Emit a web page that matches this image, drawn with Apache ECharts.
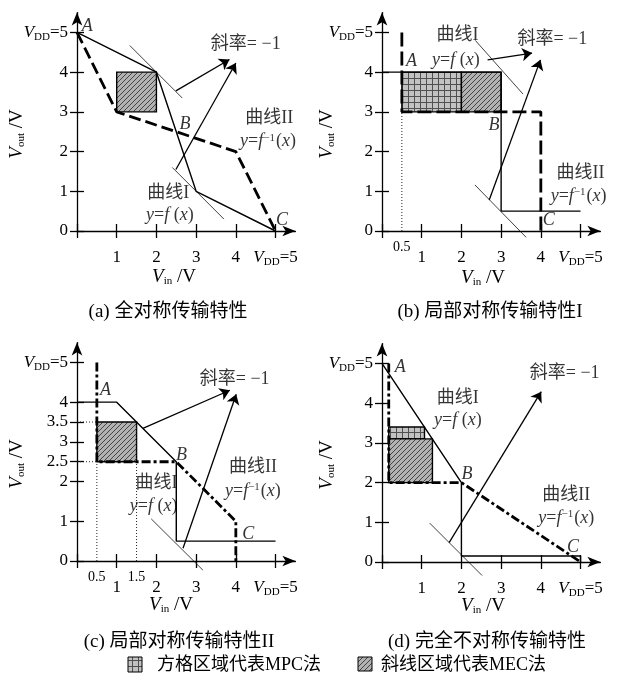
<!DOCTYPE html>
<html>
<head>
<meta charset="utf-8">
<script src="https://cdn.jsdelivr.net/npm/echarts@6/dist/echarts.min.js"></script>
<style>
html, body { margin: 0; padding: 0; background: #fff; }
#chart { width: 620px; height: 684px; }
</style>
</head>
<body>
<div id="chart"></div>
<script>
// ---- data, panel order a, b, c, d ----
const captions = ['(a) 全对称传输特性', '(b) 局部对称传输特性I', '(c) 局部对称传输特性II', '(d) 完全不对称传输特性'];

// 曲线I  y=f(x)
const curve1A = [[0, 5], [2, 4], [3, 1], [5, 0]];
const curve1B = [[0, 4], [3, 4], [3, 0.5], [5, 0.5]];
const curve1C = [[0, 4], [1, 4], [2.5, 2.5], [2.5, 0.5], [5, 0.5]];
const curve1D = [[0, 5], [2, 2], [2, 0.15], [5, 0.15], [5, 0]];
// 曲线II  y=f^-1(x)
const curve2A = [[0, 5], [1, 3], [4, 2], [5, 0]];
const curve2B = [[0.5, 5], [0.5, 3], [4, 3], [4, 0]];
const curve2C = [[0.5, 5], [0.5, 2.5], [2.5, 2.5], [4, 1], [4, 0]];
const curve2D = [[0.17, 5], [0.17, 2], [2, 2], [5, 0]];

// slope -1 tangent segments
const tangentsA = [[[1.33, 4.67], [2.65, 3.35]], [[2.4, 1.6], [3.7, 0.3]]];
const tangentsB = [[[2.35, 4.8], [3.55, 3.45]], [[2.34, 1.16], [3.63, -0.16]]];
const tangentsC = [[[1.87, 1.06], [3.17, -0.23]]];
const tangentsD = [[[1.2, 0.98], [2.52, -0.34]]];

// arrows from tangents to the "斜率= -1" note
const arrowsA = [[[2.49, 3.53], [3.84, 4.32]], [[2.49, 1.55], [4.0, 4.23]]];
const arrowsB = [[[2.66, 4.31], [3.78, 4.48]], [[2.70, 0.78], [3.99, 4.31]]];
const arrowsC = [[[1.66, 3.34], [3.85, 4.30]], [[2.67, 0.32], [4.01, 4.2]]];
const arrowsD = [[[1.69, 0.49], [4.01, 4.29]]];

// regions [x0, y0, x1, y1]
const hatchA = [[1, 3, 2, 4]];
const hatchB = [[2, 3, 3, 4]];
const hatchC = [[0.5, 2.5, 1.5, 3.5]];
const hatchD = [[0.17, 2, 1.27, 3.1]];
const checkA = [];
const checkB = [[0.5, 3, 2, 4]];
const checkC = [];
const checkD = [[0.17, 3.1, 1.07, 3.4]];

// dotted guide lines
const dottedA = [];
const dottedB = [[[0.5, 0], [0.5, 3]]];
const dottedC = [[[0.5, 0], [0.5, 3.5]], [[1.5, 0], [1.5, 3.5]], [[0, 3.5], [0.5, 3.5]], [[0, 2.5], [0.5, 2.5]]];
const dottedD = [];

// ticks and labels
const xTicks = [0, 1, 2, 3, 4, 5];
const xLabels = [1, 2, 3, 4, 5];
const xHalfLabels = [[], [0.5], [0.5, 1.5], []];
const yTicksA = [0, 1, 2, 3, 4, 5];
const yTicksC = [0, 1, 2, 2.5, 3, 3.5, 4, 5];

// annotations [x, y, text]
const textsA = [[0.26, 5.16, '{i|A}'], [2.72, 2.68, '{i|B}'], [5.16, 0.28, '{i|C}'], [4.25, 4.7, '斜率= −1'],
  [4.84, 2.85, '曲线II'], [4.81, 2.25, '{i|y}={i|f}{sup|−1}({i|x})'], [2.3, 0.95, '曲线I'], [2.34, 0.4, '{i|y}={i|f} ({i|x})']];
const textsB = [[0.74, 4.27, '{i|A}'], [2.82, 2.67, '{i|B}'], [4.2, 0.28, '{i|C}'], [4.29, 4.82, '斜率= −1'],
  [1.9, 4.94, '曲线I'], [1.86, 4.31, '{i|y}={i|f} ({i|x})'], [5.0, 1.45, '曲线II'], [4.95, 0.87, '{i|y}={i|f}{sup|−1}({i|x})']];
const textsC = [[0.72, 4.29, '{i|A}'], [2.63, 2.66, '{i|B}'], [4.31, 0.68, '{i|C}'], [3.97, 4.58, '斜率= −1'],
  [4.43, 2.35, '曲线II'], [4.43, 1.75, '{i|y}={i|f}{sup|−1}({i|x})'], [2.0, 1.97, '曲线I'], [1.93, 1.37, '{i|y}={i|f} ({i|x})']];
const textsD = [[0.46, 4.9, '{i|A}'], [2.14, 2.22, '{i|B}'], [4.81, 0.38, '{i|C}'], [4.6, 4.75, '斜率= −1'],
  [1.91, 4.12, '曲线I'], [1.91, 3.56, '{i|y}={i|f} ({i|x})'], [4.64, 1.69, '曲线II'], [4.64, 1.1, '{i|y}={i|f}{sup|−1}({i|x})']];

const legendNames = ['方格区域代表MPC法', '斜线区域代表MEC法'];

// ---- styling ----
const SERIF = "'Liberation Serif', 'Noto Sans CJK SC', serif";
const FS = 17;
const TS = 18;
const makeRich = (size) => ({
  i: { color: '#000', fontFamily: SERIF, fontStyle: 'italic', fontSize: size, lineHeight: size + 1 },
  sub: { color: '#000', fontFamily: SERIF, fontSize: 11, lineHeight: 11, padding: [9, 0, 0, 0] },
  sup: { color: '#000', fontFamily: SERIF, fontSize: 11, lineHeight: 11, padding: [0, 1, 8, 0] },
  h: { color: '#000', fontFamily: SERIF, fontSize: 14, lineHeight: 15 }
});
const rich = makeRich(FS);
const richText = makeRich(TS);
const richName = makeRich(19);

function hatchPattern() {
  const c = document.createElement('canvas');
  c.width = 5; c.height = 5;
  const g = c.getContext('2d');
  g.fillStyle = '#b2b2b2';
  g.fillRect(0, 0, 5, 5);
  g.strokeStyle = '#444';
  g.lineWidth = 1;
  g.beginPath();
  g.moveTo(-1, 6); g.lineTo(6, -1);
  g.moveTo(-1, 1); g.lineTo(1, -1);
  g.moveTo(4, 6); g.lineTo(6, 4);
  g.stroke();
  return { image: c, repeat: 'repeat' };
}
function checkPattern() {
  const c = document.createElement('canvas');
  c.width = 6; c.height = 6;
  const g = c.getContext('2d');
  g.fillStyle = '#c2c2c2';
  g.fillRect(0, 0, 6, 6);
  g.fillStyle = '#505050';
  g.fillRect(0, 0, 6, 1);
  g.fillRect(0, 0, 1, 6);
  return { image: c, repeat: 'repeat' };
}
const HATCH = hatchPattern();
const CHECK = checkPattern();

const panelCurve1 = [curve1A, curve1B, curve1C, curve1D];
const panelCurve2 = [curve2A, curve2B, curve2C, curve2D];
const panelDash2 = [[12, 5], [14, 5], [9, 3, 3, 3], [9, 3, 3, 3]];
const panelTangents = [tangentsA, tangentsB, tangentsC, tangentsD];
const panelArrows = [arrowsA, arrowsB, arrowsC, arrowsD];
const panelHatch = [hatchA, hatchB, hatchC, hatchD];
const panelCheck = [checkA, checkB, checkC, checkD];
const panelDotted = [dottedA, dottedB, dottedC, dottedD];
const panelTexts = [textsA, textsB, textsC, textsD];
const panelYTicks = [yTicksA, yTicksA, yTicksC, yTicksA];

const W = 218.4;
const gridLeft = [77, 382, 77, 382];
const gridTop = [12.6, 12.6, 342.6, 343.6];

const labelFmt = v => v === 5 ? '{i|V}{sub|DD}=5' : String(v);
const black = { color: '#000', width: 1.3 };

const grids = [], xAxes = [], yAxes = [], series = [];

for (let k = 0; k < 4; k++) {
  grids.push({ left: gridLeft[k], top: gridTop[k], width: W, height: W, outerBoundsMode: 'none' });
  const common = { gridIndex: k, type: 'value', min: 0, max: 5.5, splitLine: { show: false } };
  const labelStyle = { color: '#000', fontFamily: SERIF, fontSize: FS, lineHeight: 18, rich: rich, formatter: labelFmt };
  xAxes.push(Object.assign({}, common, {
    position: 'bottom',
    axisLine: { show: true, onZero: false, symbol: ['none', 'arrow'], symbolSize: [8, 13], lineStyle: black },
    axisTick: { show: true, customValues: xTicks, length: 7, lineStyle: black },
    axisLabel: Object.assign({ customValues: xLabels, margin: 18 }, labelStyle)
  }));
  xAxes.push(Object.assign({}, common, {
    position: 'bottom',
    axisLine: { show: false },
    axisTick: { show: true, inside: true, customValues: xTicks, length: 7, lineStyle: black },
    axisLabel: { show: xHalfLabels[k].length > 0, customValues: xHalfLabels[k], margin: 9, color: '#000',
      rich: rich, formatter: v => '{h|' + v + '}' }
  }));
  yAxes.push(Object.assign({}, common, {
    position: 'left',
    axisLine: { show: true, onZero: false, symbol: ['none', 'arrow'], symbolSize: [8, 13], lineStyle: black },
    axisTick: { show: true, customValues: panelYTicks[k], length: 7, lineStyle: black },
    axisLabel: Object.assign({ customValues: panelYTicks[k], margin: 9 }, labelStyle)
  }));
  yAxes.push(Object.assign({}, common, {
    position: 'left',
    axisLine: { show: false },
    axisTick: { show: true, inside: true, customValues: panelYTicks[k], length: 7, lineStyle: black },
    axisLabel: { show: false }
  }));

  const ax = { xAxisIndex: 2 * k, yAxisIndex: 2 * k };
  const rectSeries = (data, fill) => Object.assign({
    type: 'custom', data: data, z: 1, silent: true, clip: false,
    renderItem: (params, api) => {
      const p0 = api.coord([api.value(0), api.value(3)]);
      const p1 = api.coord([api.value(2), api.value(1)]);
      return { type: 'rect', shape: { x: p0[0], y: p0[1], width: p1[0] - p0[0], height: p1[1] - p0[1] },
        style: { fill: fill, stroke: '#000', lineWidth: 1.4 } };
    }
  }, ax);
  if (panelCheck[k].length) series.push(rectSeries(panelCheck[k], CHECK));
  series.push(rectSeries(panelHatch[k], HATCH));

  panelDotted[k].forEach(seg => series.push(Object.assign({
    type: 'line', data: seg, symbol: 'none', silent: true, clip: false, z: 2,
    lineStyle: { color: '#222', width: 1, type: [1, 2] }
  }, ax)));
  panelTangents[k].forEach(seg => series.push(Object.assign({
    type: 'line', data: seg, symbol: 'none', silent: true, clip: false, z: 2,
    lineStyle: { color: '#111', width: 0.8 }
  }, ax)));
  series.push(Object.assign({
    type: 'line', data: panelCurve1[k], symbol: 'none', silent: true, clip: false, z: 3,
    lineStyle: { color: '#000', width: 1.4 }
  }, ax));
  series.push(Object.assign({
    type: 'line', data: panelCurve2[k], symbol: 'none', silent: true, clip: false, z: 3,
    lineStyle: { color: '#000', width: 2.8, type: panelDash2[k] }
  }, ax));
  series.push(Object.assign({
    type: 'lines', coordinateSystem: 'cartesian2d', silent: true, z: 3,
    symbol: ['none', 'arrow'], symbolSize: 10,
    lineStyle: { color: '#000', width: 1.3, opacity: 1, curveness: 0 },
    data: panelArrows[k].map(a => ({ coords: a }))
  }, ax));
  series.push(Object.assign({
    type: 'scatter', data: panelTexts[k], symbolSize: 1, silent: true, z: 4, clip: false,
    itemStyle: { color: 'rgba(0,0,0,0)' },
    label: { show: true, position: 'inside', color: '#000', fontFamily: SERIF, fontSize: TS, lineHeight: 19,
      rich: richText, formatter: p => p.value[2] }
  }, ax));
}

// axis titles, captions, legend
const yNamePos = [[17, 134], [327, 134], [17, 464], [327, 465]];
const xNamePos = [[174, 277], [483, 278], [171, 605], [483, 606]];
const captionPos = [[168, 312], [490, 312], [179, 642], [487, 642]];
const graphic = [];
for (let k = 0; k < 4; k++) {
  graphic.push({ type: 'text', x: yNamePos[k][0], y: yNamePos[k][1], rotation: Math.PI / 2,
    style: { text: '{i|V}{sub|out} /V', rich: richName, fontFamily: SERIF, fontSize: 19, lineHeight: 20, fill: '#000', align: 'center', verticalAlign: 'middle' } });
  graphic.push({ type: 'text', x: xNamePos[k][0], y: xNamePos[k][1],
    style: { text: '{i|V}{sub|in} /V', rich: richName, fontFamily: SERIF, fontSize: 19, lineHeight: 20, fill: '#000', align: 'center', verticalAlign: 'middle' } });
  graphic.push({ type: 'text', x: captionPos[k][0], y: captionPos[k][1],
    style: { text: captions[k], fontFamily: SERIF, fontSize: 19, fill: '#000', align: 'center', verticalAlign: 'middle' } });
}
graphic.push({ type: 'rect', shape: { x: 128, y: 657, width: 14, height: 15 }, style: { fill: CHECK, stroke: '#000', lineWidth: 1 } });
graphic.push({ type: 'text', x: 157, y: 665, style: { text: legendNames[0], fontFamily: SERIF, fontSize: 18, fill: '#000', align: 'left', verticalAlign: 'middle' } });
graphic.push({ type: 'rect', shape: { x: 358, y: 657, width: 14, height: 14 }, style: { fill: HATCH, stroke: '#000', lineWidth: 1 } });
graphic.push({ type: 'text', x: 381, y: 665, style: { text: legendNames[1], fontFamily: SERIF, fontSize: 18, fill: '#000', align: 'left', verticalAlign: 'middle' } });

const chart = echarts.init(document.getElementById('chart'));
chart.setOption({
  animation: false,
  backgroundColor: '#fff',
  grid: grids,
  xAxis: xAxes,
  yAxis: yAxes,
  series: series,
  graphic: graphic
});
</script>
</body>
</html>
